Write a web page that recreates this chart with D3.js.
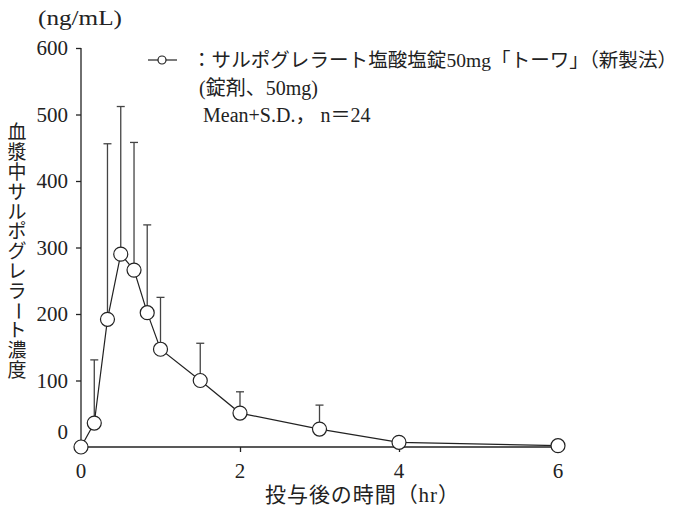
<!DOCTYPE html>
<html><head><meta charset="utf-8">
<script src="https://cdn.jsdelivr.net/npm/d3@7"></script>
<style>
body{margin:0;background:#fff;}
svg{display:block;}
text{font-family:'Liberation Serif','Noto Sans CJK JP',serif;fill:#222;}
</style></head>
<body>
<svg id="chart" width="679" height="508"></svg>
<script>
// ---- data ----
const times = [0, 0.167, 0.333, 0.5, 0.667, 0.833, 1, 1.5, 2, 3, 4, 6];
const means = [0, 36, 192, 290, 266, 202, 147, 100, 51, 27, 7, 2];
const sds   = [0, 95, 264, 222, 192, 132, 78, 56, 32, 36, 4, 0];
const yTicks = [100, 200, 300, 400, 500, 600];
const xTicks = [0, 2, 4, 6];
const yUnit = "(ng/mL)";
const yTitle = "血漿中サルポグレラート濃度";
const xTitle = "投与後の時間（hr）";
const legendLines = ["：サルポグレラート塩酸塩錠50mg「トーワ」（新製法）", "(錠剤、50mg)", "Mean+S.D.， n＝24"];

const svg = d3.select("#chart");
const x = d3.scaleLinear().domain([0, 6]).range([81, 558]);
const y = d3.scaleLinear().domain([0, 600]).range([447, 48]);
const ink = "#222";

// axes
const yAxis = svg.append("g").attr("transform", `translate(${x(0)},0)`)
  .call(d3.axisLeft(y).tickValues(yTicks).tickSize(5).tickFormat(""));
yAxis.select(".domain").attr("d", `M0,${y(600)}V${y(0)}`);
const xAxis = svg.append("g").attr("transform", `translate(0,${y(0)})`)
  .call(d3.axisBottom(x).tickValues(xTicks).tickSize(5).tickFormat(""));
xAxis.select(".domain").attr("d", `M${x(0)},0H${x(6)}`);
svg.selectAll(".domain, .tick line").attr("stroke", ink).attr("stroke-width", 1.3);

// tick labels
svg.selectAll(".ylab").data(yTicks).join("text")
  .attr("x", 68).attr("y", d => y(d)).attr("dy", "0.35em")
  .attr("text-anchor", "end").attr("font-size", 21).text(d => d);
svg.append("text").attr("x", 68).attr("y", y(0) - 15).attr("dy", "0.35em")
  .attr("text-anchor", "end").attr("font-size", 21).text("0");
svg.selectAll(".xlab").data(xTicks).join("text")
  .attr("x", d => x(d)).attr("y", 478)
  .attr("text-anchor", "middle").attr("font-size", 21).text(d => d);

// unit
svg.append("text").attr("x", 38).attr("y", 25).attr("font-size", 20)
  .attr("textLength", 84).attr("lengthAdjust", "spacingAndGlyphs").text(yUnit);

// y title vertical
const chars = Array.from(yTitle);
chars.forEach((c, i) => {
  const cy = 123 + 19.8 * (i + 0.5);
  const t = svg.append("text").attr("x", 17).attr("y", cy)
    .attr("text-anchor", "middle").attr("dominant-baseline", "central")
    .attr("font-size", 19).attr("font-family", "'Noto Sans CJK JP'").text(c);
  if (c === "ー") t.attr("transform", `rotate(90,17,${cy})`);
});

// x title
svg.append("text").attr("x", 265).attr("y", 495).attr("dominant-baseline", "central")
  .attr("font-size", 21).attr("textLength", 194).attr("lengthAdjust", "spacing").text(xTitle);

// error bars
const eb = svg.append("g").attr("stroke", "#444").attr("stroke-width", 1.3);
times.forEach((t, i) => {
  if (sds[i] <= 0) return;
  eb.append("line").attr("x1", x(t)).attr("x2", x(t)).attr("y1", y(means[i])).attr("y2", y(means[i] + sds[i]));
  eb.append("line").attr("x1", x(t) - 4).attr("x2", x(t) + 4).attr("y1", y(means[i] + sds[i])).attr("y2", y(means[i] + sds[i]));
});

// line
const pts = times.map((t, i) => [t, means[i]]);
svg.append("path").datum(pts)
  .attr("d", d3.line().x(d => x(d[0])).y(d => y(d[1])))
  .attr("fill", "none").attr("stroke", ink).attr("stroke-width", 1.2);
svg.selectAll(".pt").data(pts).join("circle")
  .attr("cx", d => x(d[0])).attr("cy", d => y(d[1])).attr("r", 7)
  .attr("fill", "#fff").attr("stroke", ink).attr("stroke-width", 1.2);

// legend
svg.append("line").attr("x1", 148).attr("x2", 177).attr("y1", 60).attr("y2", 60)
  .attr("stroke", ink).attr("stroke-width", 1.2);
svg.append("circle").attr("cx", 162).attr("cy", 60).attr("r", 4)
  .attr("fill", "#fff").attr("stroke", ink).attr("stroke-width", 1.2);
const lx = [192, 199, 203], ly = [60, 88, 115], lsz = [19.5, 20, 20];
legendLines.forEach((s, i) => {
  const t = svg.append("text").attr("x", lx[i]).attr("y", ly[i]).attr("dominant-baseline", "central")
    .attr("font-size", lsz[i]).text(s);
  if (i === 0) t.attr("textLength", 485).attr("lengthAdjust", "spacing");
});
</script>
</body></html>
